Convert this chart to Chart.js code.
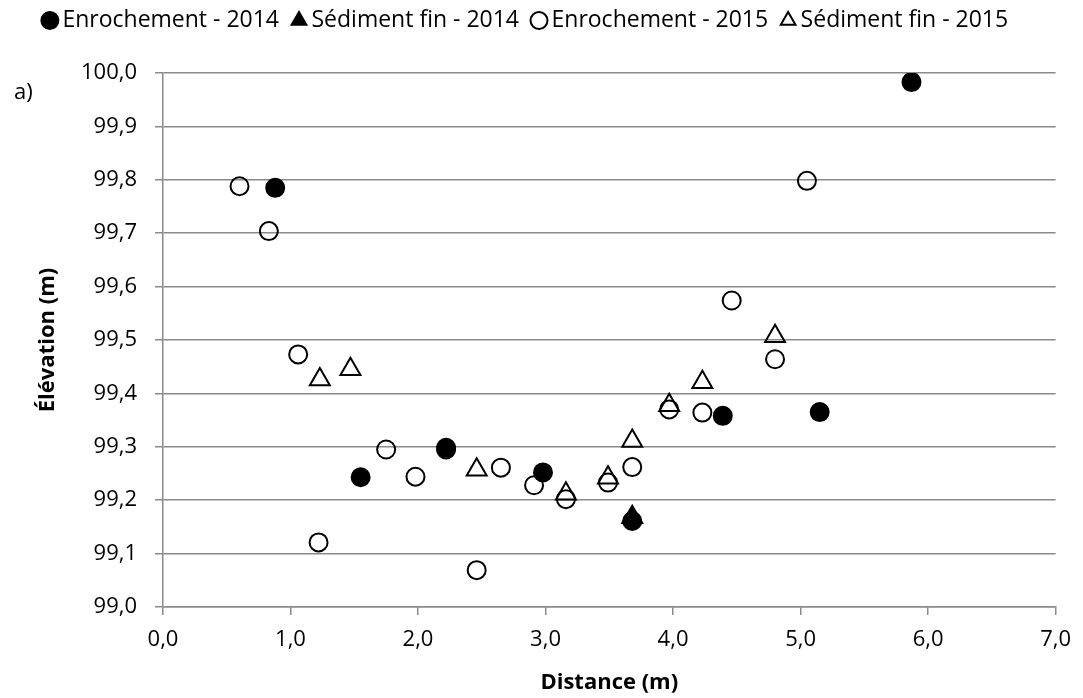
<!DOCTYPE html>
<html>
<head>
<meta charset="utf-8">
<script src="https://cdn.jsdelivr.net/npm/chart.js@4.4.1/dist/chart.umd.min.js"></script>
<style>
    html, body { margin: 0; padding: 0; background: #fff; }
    #wrap { width: 1083px; height: 698px; position: relative; }
</style>
</head>
<body>
<div id="wrap"><canvas id="elevationChart" width="1083" height="698"></canvas></div>
<script>
// valeurs
const seriesLabels = ["Enrochement - 2014", "Sédiment fin - 2014", "Enrochement - 2015", "Sédiment fin - 2015"];

const enroch2014X = [0.88, 1.55, 2.22, 2.98, 3.68, 4.39, 5.15, 5.87];
const enroch2014Y = [99.785, 99.243, 99.298, 99.252, 99.161, 99.358, 99.365, 99.983];

const sed2014X = [3.68];
const sed2014Y = [99.168];

const enroch2015X = [0.60, 0.83, 1.06, 1.22, 1.75, 1.98, 2.22, 2.46, 2.65, 2.91, 3.16, 3.49, 3.68, 3.97, 4.23, 4.46, 4.80, 5.05];
const enroch2015Y = [99.788, 99.704, 99.473, 99.121, 99.295, 99.244, 99.295, 99.069, 99.261, 99.228, 99.202, 99.233, 99.262, 99.370, 99.364, 99.574, 99.464, 99.798];

const sed2015X = [1.23, 1.47, 2.46, 3.16, 3.49, 3.68, 3.97, 4.23, 4.80];
const sed2015Y = [99.426, 99.445, 99.257, 99.212, 99.242, 99.311, 99.378, 99.421, 99.507];

const xTicks = [0, 1, 2, 3, 4, 5, 6, 7];
const yTicks = [99.0, 99.1, 99.2, 99.3, 99.4, 99.5, 99.6, 99.7, 99.8, 99.9, 100.0];

const toPoints = (xs, ys) => xs.map((x, i) => ({x: x, y: ys[i]}));
const fmt = (v) => v.toFixed(1).replace(".", ",");

Chart.defaults.font.family = "'Open Sans', 'DejaVu Sans', sans-serif";
Chart.defaults.color = "#000";

const gridColor = "#8a8a8a";

const makeDataset = (label, data, style, filled) => {
    return {
        label: label,
        data: data,
        pointStyle: style,
        pointRadius: style === "triangle" ? 11.5 : 9,
        pointBorderWidth: 2,
        borderWidth: 2,
        borderColor: "#000",
        pointBorderColor: "#000",
        backgroundColor: filled ? "#000" : "rgba(0,0,0,0)",
        pointBackgroundColor: filled ? "#000" : "rgba(0,0,0,0)",
        showLine: false,
    }
}

// petit texte "a)" en haut à gauche
const panelLabel = {
    id: "panelLabel",
    afterDraw: (chart) => {
        const {ctx} = chart;
        ctx.save();
        ctx.font = "22px 'Open Sans'";
        ctx.fillStyle = "#000";
        ctx.textAlign = "left";
        ctx.textBaseline = "middle";
        ctx.fillText("a)", 14, 93);
        ctx.restore();
    }
}

// hauteur fixe pour la légende
const legendHeight = {
    id: "legendHeight",
    afterInit: (chart) => {
        const legend = chart.legend;
        if (!legend) return;
        const origFit = legend.fit;
        legend.fit = function () {
            origFit.call(this);
            this.height = 83;
        }
    }
}

const ctx = document.getElementById("elevationChart").getContext("2d");

new Chart(ctx, {
    type: "scatter",
    data: {
        datasets: [
            makeDataset(seriesLabels[0], toPoints(enroch2014X, enroch2014Y), "circle", true),
            makeDataset(seriesLabels[1], toPoints(sed2014X, sed2014Y), "triangle", true),
            makeDataset(seriesLabels[2], toPoints(enroch2015X, enroch2015Y), "circle", false),
            makeDataset(seriesLabels[3], toPoints(sed2015X, sed2015Y), "triangle", false),
        ]
    },
    plugins: [panelLabel, legendHeight],
    options: {
        responsive: false,
        animation: false,
        layout: {
            padding: {top: -10, left: 0, right: 26, bottom: 0}
        },
        plugins: {
            tooltip: {enabled: false},
            legend: {
                display: true,
                position: "top",
                labels: {
                    usePointStyle: true,
                    boxWidth: 2,
                    boxHeight: 12,
                    padding: 19,
                    font: {size: 23},
                    color: "#000",
                }
            },
        },
        scales: {
            x: {
                type: "linear",
                min: xTicks[0],
                max: xTicks[xTicks.length - 1],
                afterBuildTicks: (scale) => {
                    scale.ticks = xTicks.map(v => ({value: v}));
                },
                afterFit: (scale) => {
                    scale.height = 91;
                },
                ticks: {
                    callback: (v) => fmt(v),
                    font: {size: 22},
                    padding: 12,
                    maxRotation: 0,
                },
                grid: {
                    drawOnChartArea: false,
                    color: gridColor,
                    lineWidth: 1.5,
                    tickLength: 8,
                },
                border: {color: gridColor, width: 1.5},
                title: {
                    display: true,
                    text: "Distance (m)",
                    font: {size: 22, weight: "bold"},
                    padding: {top: 0, bottom: 2},
                },
            },
            y: {
                type: "linear",
                min: yTicks[0],
                max: yTicks[yTicks.length - 1],
                afterBuildTicks: (scale) => {
                    scale.ticks = yTicks.map(v => ({value: v}));
                },
                afterFit: (scale) => {
                    scale.width = 163;
                },
                ticks: {
                    callback: (v) => fmt(v),
                    font: {size: 22},
                    padding: 18,
                },
                grid: {
                    color: gridColor,
                    lineWidth: 1.5,
                    tickLength: 8,
                },
                border: {color: gridColor, width: 1.5},
                title: {
                    display: true,
                    text: "Élévation (m)",
                    font: {size: 22, weight: "bold"},
                    padding: {top: 35, bottom: 0},
                },
            },
        },
    },
});
</script>
</body>
</html>
